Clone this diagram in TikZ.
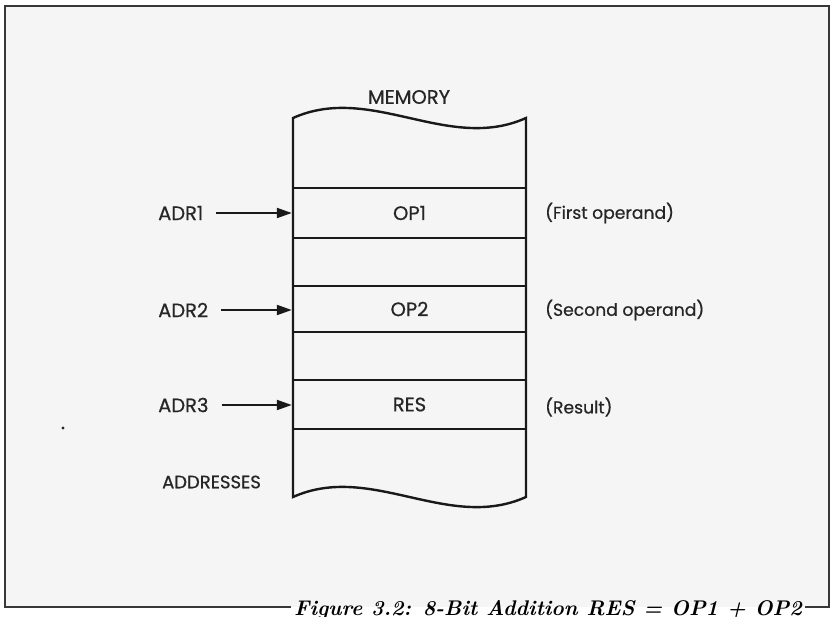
\documentclass[tikz,border=0pt]{standalone}
\usepackage{fontspec}
\newfontfamily\geo[FakeBold=0.6]{Poppins}
\usetikzlibrary{arrows.meta}
\begin{document}
\begin{tikzpicture}[x=1pt,y=-1pt,
  frameline/.style={draw=black!78, line width=2.2pt},
  memline/.style={draw=black!90, line width=2.4pt},
  lbl/.style={font=\geo\fontsize{19.5}{22}\selectfont, text=black!85, inner sep=0pt},
  note/.style={lbl, font=\geo\fontsize{17.2}{20}\selectfont, anchor=west},
  cell/.style={memline, lbl, minimum width=233pt},
  ptr/.style={draw=black!90, line width=2pt, -{Triangle[length=15pt,width=10pt]}, shorten <=13pt},
]
\path[use as bounding box] (0,0) rectangle (834,616);
\clip (0,0) rectangle (834,616);

% page tint inside the frame
\fill[black!4] (5,6) rectangle (829,607);

% caption sitting on the bottom rule
\node[anchor=base west, inner sep=0pt, font=\fontsize{21.2}{24}\selectfont\bfseries\itshape]
  (caption) at (294,615.5) {Figure 3.2: 8-Bit Addition RES = OP1 + OP2};

% frame
\draw[frameline] ([xshift=-3pt]caption.west |- 5,607) -- (5,607) -- (5,6)
  -- (829,6) -- (829,607) -- ([xshift=3pt]caption.east |- 5,607);

% memory column with torn top and bottom
\draw[memline] (293,118) .. controls (371,83) and (448,153) .. (526,118)
  -- (526,497) .. controls (448,532) and (371,462) .. (293,497) -- cycle;
\draw[memline] (293,188) -- (526,188);
\draw[memline] (293,286) -- (526,286);

\node[cell, minimum height=50pt] (op1) at (409.5,213) {OP1};
\node[cell, minimum height=46pt] (op2) at (409.5,309) {OP2};
\node[cell, minimum height=49pt] (res) at (409.5,404.5) {RES};

\node[lbl] (mem) at (409,97) {MEMORY};

% addresses
\node[lbl, anchor=west] (adr1) at (158,213) {ADR1};
\node[lbl, anchor=west] (adr2) at (158,310) {ADR2};
\node[lbl, anchor=west] (adr3) at (158,405) {ADR3};
\node[lbl, anchor=west, font=\geo\fontsize{18}{21}\selectfont] (addr) at (162,482) {ADDRESSES};

\draw[ptr] (adr1.east) -- (adr1.east -| op1.west);
\draw[ptr] (adr2.east) -- (adr2.east -| op2.west);
\draw[ptr] (adr3.east) -- (adr3.east -| res.west);

% remarks
\node[note] (n1) at (545,213) {(First operand)};
\node[note] (n2) at (545,310) {(Second operand)};
\node[note] (n3) at (545,407) {(Result)};

\fill[black!85] (63,428) circle (1.6pt);
\end{tikzpicture}
\end{document}
